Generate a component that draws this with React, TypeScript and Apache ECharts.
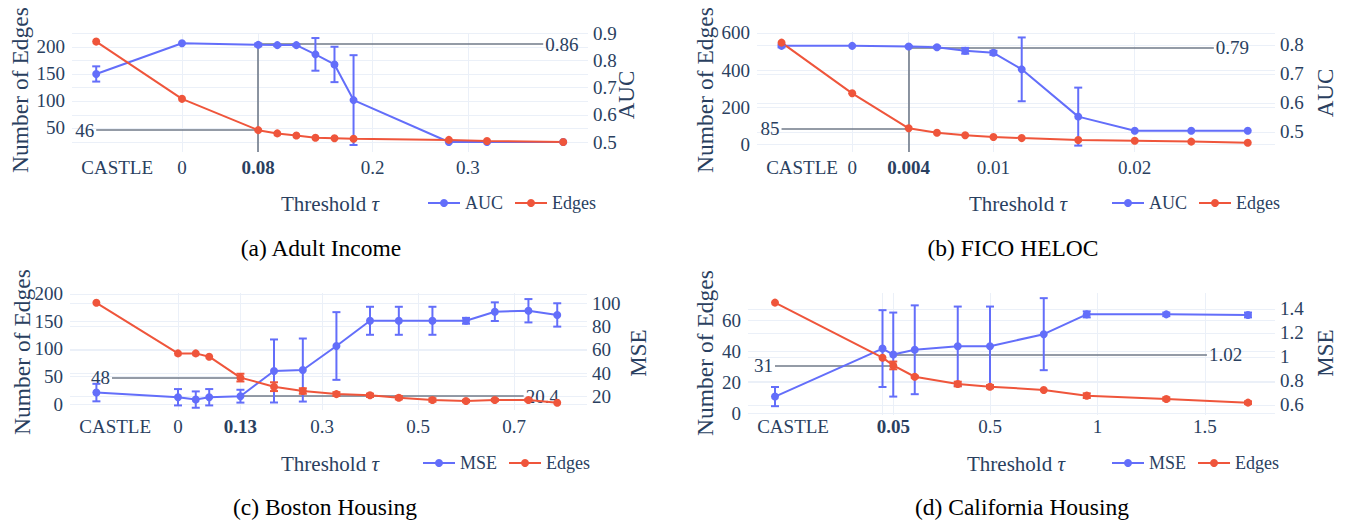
import React, { useEffect, useRef } from "react";
import * as echarts from "echarts";

// ---------------- data ----------------
// (a) Adult Income
const adultX = [-0.09, 0, 0.08, 0.1, 0.12, 0.14, 0.16, 0.18, 0.28, 0.32, 0.4];
const adultAUC = [0.75, 0.863, 0.857, 0.856, 0.856, 0.822, 0.785, 0.654, 0.5, 0.5, 0.5];
const adultAUCErr = [0.028, 0, 0.005, 0.003, 0.003, 0.06, 0.065, 0.165, 0, 0, 0];
const adultEdges = [210, 104, 46, 40, 36, 32, 31, 30, 28, 26, 24];
const adultEdgesErr = [0, 0, 0, 0, 0, 0, 0, 0, 0, 0, 0];
const adultXTicks = [0, 0.08, 0.2, 0.3];
const adultXLabels = [-0.068, 0, 0.08, 0.2, 0.3];
const adultEdgeTicks = [50, 100, 150, 200];
const adultAUCTicks = [0.5, 0.6, 0.7, 0.8, 0.9];

// (b) FICO HELOC
const ficoX = [-0.005, 0, 0.004, 0.006, 0.008, 0.01, 0.012, 0.016, 0.02, 0.024, 0.028];
const ficoAUC = [0.797, 0.797, 0.795, 0.792, 0.78, 0.773, 0.716, 0.553, 0.504, 0.504, 0.504];
const ficoAUCErr = [0.005, 0, 0.002, 0.003, 0.01, 0.007, 0.11, 0.1, 0, 0, 0];
const ficoEdges = [548, 274, 85, 61, 47, 38, 32, 22, 18, 13, 7];
const ficoEdgesErr = [0, 0, 0, 0, 0, 0, 0, 0, 0, 0, 0];
const ficoXTicks = [0, 0.004, 0.01, 0.02];
const ficoXLabels = [-0.00355, 0, 0.004, 0.01, 0.02];
const ficoEdgeTicks = [0, 200, 400, 600];
const ficoAUCTicks = [0.5, 0.6, 0.7, 0.8];

// (c) Boston Housing
const bostonX = [-0.17, 0, 0.037, 0.065, 0.13, 0.2, 0.26, 0.33, 0.4, 0.46, 0.53, 0.6, 0.66, 0.73, 0.79];
const bostonMSE = [23.5, 19.5, 17.5, 19.5, 20.4, 42, 42.8, 63.4, 85, 85, 85, 85, 92.8, 93.6, 90];
const bostonMSEErr = [7.5, 7, 7, 7, 5.5, 27, 27, 29, 12, 12, 12, 2.5, 8, 10, 10];
const bostonEdges = [184, 92, 92, 86, 48, 31.5, 23.6, 18, 15.8, 11.5, 7.3, 5.5, 7.3, 7.3, 2.4];
const bostonEdgesErr = [0, 0, 0, 0, 7, 8, 5, 3.5, 3, 3, 3, 2, 2, 2, 0];
const bostonXTicks = [0, 0.13, 0.3, 0.5, 0.7];
const bostonXLabels = [-0.131, 0, 0.13, 0.3, 0.5, 0.7];
const bostonEdgeTicks = [0, 50, 100, 150, 200];
const bostonMSETicks = [20, 40, 60, 80, 100];

// (d) California Housing
const caliX = [-0.5, 0, 0.05, 0.15, 0.35, 0.5, 0.75, 0.95, 1.32, 1.7];
const caliMSE = [0.67, 1.07, 1.02, 1.06, 1.09, 1.09, 1.19, 1.355, 1.355, 1.35];
const caliMSEErr = [0.08, 0.32, 0.35, 0.37, 0.33, 0.33, 0.3, 0.025, 0.015, 0.02];
const caliEdges = [71.5, 36, 31, 23.7, 19, 17.3, 15.2, 11.5, 9.4, 7];
const caliEdgesErr = [0, 0, 2.5, 0.6, 1.5, 1, 0, 1.5, 1, 0.8];
const caliXTicks = [0, 0.05, 0.5, 1, 1.5];
const caliXLabels = [-0.416, 0.05, 0.5, 1, 1.5];
const caliEdgeTicks = [0, 20, 40, 60];
const caliMSETicks = [0.6, 0.8, 1, 1.2, 1.4];

// ---------------- styles ----------------
const FONT = "'Liberation Serif', 'Times New Roman', serif";
const TXT = "#2a3f5f";
const BLUE = "#636efa";
const RED = "#ef553b";
const GRIDC = "#ebf0f8";
const ANN = "#707a89";

type Ann = { value: number; from: number; to: number; label: string };

type Panel = {
  grid: { left: number; top: number; width: number; height: number };
  x: number[];
  metric: number[];
  metricErr: number[];
  edges: number[];
  edgesErr: number[];
  metricName: string;
  xRange: [number, number];
  edgeRange: [number, number];
  metricRange: [number, number];
  xTicks: number[];
  xLabels: number[];
  castle: number;
  special: number;
  edgeTicks: number[];
  metricTicks: number[];
  edgeAnn: Ann;
  metricAnn: Ann;
  vline: boolean;
  xMargin: number;
  legend: { left: number; top: number };
  xTitle: [number, number];
  yTitle: [number, number];
  rTitle: [number, number];
  caption: string;
  capPos: [number, number];
};

const panels: Panel[] = [
  {
    grid: { left: 72, top: 33, width: 516, height: 119 },
    x: adultX, metric: adultAUC, metricErr: adultAUCErr, edges: adultEdges, edgesErr: adultEdgesErr,
    metricName: "AUC",
    xRange: [-0.1154, 0.426], edgeRange: [5.56, 225.9], metricRange: [0.4633, 0.9005],
    xTicks: adultXTicks, xLabels: adultXLabels, castle: adultXLabels[0], special: 0.08,
    edgeTicks: adultEdgeTicks, metricTicks: adultAUCTicks,
    edgeAnn: { value: 46, from: -0.09, to: 0.08, label: "46" },
    metricAnn: { value: 0.86, from: 0.08, to: 0.379, label: "0.86" },
    vline: true, xMargin: 6,
    legend: { left: 427, top: 194 },
    xTitle: [330, 204], yTitle: [20, 90], rTitle: [626, 95],
    caption: "(a) Adult Income", capPos: [321, 248],
  },
  {
    grid: { left: 757, top: 32, width: 518, height: 120 },
    x: ficoX, metric: ficoAUC, metricErr: ficoAUCErr, edges: ficoEdges, edgesErr: ficoEdgesErr,
    metricName: "AUC",
    xRange: [-0.006738, 0.029929], edgeRange: [-43.2, 605.4], metricRange: [0.431, 0.8448],
    xTicks: ficoXTicks, xLabels: ficoXLabels, castle: ficoXLabels[0], special: 0.004,
    edgeTicks: ficoEdgeTicks, metricTicks: ficoAUCTicks,
    edgeAnn: { value: 85, from: -0.005, to: 0.004, label: "85" },
    metricAnn: { value: 0.79, from: 0.004, to: 0.0256, label: "0.79" },
    vline: true, xMargin: 6,
    legend: { left: 1111, top: 194 },
    xTitle: [1018, 204], yTitle: [705, 90], rTitle: [1325, 93],
    caption: "(b) FICO HELOC", capPos: [1013, 248],
  },
  {
    grid: { left: 70, top: 293, width: 517, height: 117 },
    x: bostonX, metric: bostonMSE, metricErr: bostonMSEErr, edges: bostonEdges, edgesErr: bostonEdgesErr,
    metricName: "MSE",
    xRange: [-0.225, 0.852], edgeRange: [-10.9, 201.8], metricRange: [8.57, 108.8],
    xTicks: bostonXTicks, xLabels: bostonXLabels, castle: bostonXLabels[0], special: 0.13,
    edgeTicks: bostonEdgeTicks, metricTicks: bostonMSETicks,
    edgeAnn: { value: 48, from: -0.1375, to: 0.13, label: "48" },
    metricAnn: { value: 20.4, from: 0.13, to: 0.72, label: "20.4" },
    vline: false, xMargin: 7,
    legend: { left: 422, top: 454 },
    xTitle: [330, 464], yTitle: [22, 352], rTitle: [638, 353],
    caption: "(c) Boston Housing", capPos: [325, 507],
  },
  {
    grid: { left: 748, top: 293, width: 527, height: 122 },
    x: caliX, metric: caliMSE, metricErr: caliMSEErr, edges: caliEdges, edgesErr: caliEdgesErr,
    metricName: "MSE",
    xRange: [-0.6256, 1.8256], edgeRange: [-0.97, 77.7], metricRange: [0.5166, 1.533],
    xTicks: caliXTicks, xLabels: caliXLabels, castle: caliXLabels[0], special: 0.05,
    edgeTicks: caliEdgeTicks, metricTicks: caliMSETicks,
    edgeAnn: { value: 31, from: -0.5, to: 0.05, label: "31" },
    metricAnn: { value: 1.02, from: 0.05, to: 1.509, label: "1.02" },
    vline: false, xMargin: 2,
    legend: { left: 1111, top: 454 },
    xTitle: [1016, 464], yTitle: [705, 353], rTitle: [1325, 353],
    caption: "(d) California Housing", capPos: [1022, 507],
  },
];

const near = (a: number, b: number) => Math.abs(a - b) < 1e-9;

function errSeries(p: Panel, gi: number, yi: number, ys: number[], errs: number[], color: string) {
  const data: number[][] = [];
  p.x.forEach((x, i) => {
    if (errs[i] > 0) data.push([x, ys[i] - errs[i], ys[i] + errs[i]]);
  });
  return {
    type: "custom",
    name: "err" + gi + "_" + yi,
    xAxisIndex: gi,
    yAxisIndex: yi,
    silent: true,
    z: 3,
    encode: { x: 0, y: [1, 2] },
    data,
    renderItem: (params: any, api: any) => {
      const x = api.value(0);
      const lo = api.coord([x, api.value(1)]);
      const hi = api.coord([x, api.value(2)]);
      const hw = 4;
      const st = { stroke: color, lineWidth: 2 };
      return {
        type: "group",
        children: [
          { type: "line", shape: { x1: lo[0], y1: lo[1], x2: hi[0], y2: hi[1] }, style: st },
          { type: "line", shape: { x1: lo[0] - hw, y1: lo[1], x2: lo[0] + hw, y2: lo[1] }, style: st },
          { type: "line", shape: { x1: hi[0] - hw, y1: hi[1], x2: hi[0] + hw, y2: hi[1] }, style: st },
        ],
      };
    },
  };
}

const labelStyle = { color: TXT, fontSize: 19, fontFamily: FONT };

function buildOption() {
  const grid: any[] = [];
  const xAxis: any[] = [];
  const yAxis: any[] = [];
  const series: any[] = [];
  const legend: any[] = [];
  const graphic: any[] = [];

  panels.forEach((p, gi) => {
    grid.push({ ...p.grid, containLabel: false });
    xAxis.push({
      type: "value",
      gridIndex: gi,
      min: p.xRange[0],
      max: p.xRange[1],
      axisLine: { show: false },
      axisTick: { show: false, customValues: p.xTicks },
      splitLine: { show: true, lineStyle: { color: GRIDC, width: 1 } },
      axisLabel: {
        customValues: p.xLabels,
        margin: p.xMargin,
        ...labelStyle,
        formatter: (v: number) =>
          near(v, p.castle) ? "CASTLE" : near(v, p.special) ? "{b|" + p.special + "}" : String(v),
        rich: { b: { ...labelStyle, fontWeight: "bold" } },
      },
    });
    // left (edges)
    yAxis.push({
      type: "value",
      gridIndex: gi,
      position: "left",
      min: p.edgeRange[0],
      max: p.edgeRange[1],
      axisLine: { show: false },
      axisTick: { show: false, customValues: p.edgeTicks },
      splitLine: { show: true, lineStyle: { color: GRIDC, width: 1 } },
      axisLabel: { customValues: p.edgeTicks, margin: 7, ...labelStyle },
    });
    // right (metric)
    yAxis.push({
      type: "value",
      gridIndex: gi,
      position: "right",
      min: p.metricRange[0],
      max: p.metricRange[1],
      axisLine: { show: false },
      axisTick: { show: false, customValues: p.metricTicks },
      splitLine: { show: true, lineStyle: { color: GRIDC, width: 1 } },
      axisLabel: { customValues: p.metricTicks, margin: 5, ...labelStyle },
    });
    const li = gi * 2;
    const ri = gi * 2 + 1;
    const annLabel = { show: true, color: TXT, fontSize: 19, fontFamily: FONT, distance: 2 };
    const metricLines: any[] = [
      [
        { coord: [p.metricAnn.from, p.metricAnn.value], label: { ...annLabel, position: "end", formatter: p.metricAnn.label } },
        { coord: [p.metricAnn.to, p.metricAnn.value] },
      ],
    ];
    if (p.vline) {
      metricLines.push([
        { coord: [p.special, p.metricAnn.value], label: { show: false } },
        { coord: [p.special, p.metricRange[0]] },
      ]);
    }
    series.push({
      type: "line",
      name: p.metricName,
      xAxisIndex: gi,
      yAxisIndex: ri,
      data: p.x.map((x, i) => [x, p.metric[i]]),
      symbol: "circle",
      symbolSize: 8,
      color: BLUE,
      lineStyle: { width: 2, color: BLUE },
      itemStyle: { color: BLUE },
      z: 3,
      markLine: {
        silent: true,
        symbol: ["none", "none"],
        lineStyle: { color: ANN, width: 1.6, type: "solid" },
        data: metricLines,
        z: 1,
      },
    });
    series.push(errSeries(p, gi, ri, p.metric, p.metricErr, BLUE));
    series.push({
      type: "line",
      name: "Edges",
      xAxisIndex: gi,
      yAxisIndex: li,
      data: p.x.map((x, i) => [x, p.edges[i]]),
      symbol: "circle",
      symbolSize: 8,
      color: RED,
      lineStyle: { width: 2, color: RED },
      itemStyle: { color: RED },
      z: 3,
      markLine: {
        silent: true,
        symbol: ["none", "none"],
        lineStyle: { color: ANN, width: 1.6, type: "solid" },
        data: [
          [
            { coord: [p.edgeAnn.from, p.edgeAnn.value], label: { ...annLabel, position: "start", formatter: p.edgeAnn.label } },
            { coord: [p.edgeAnn.to, p.edgeAnn.value] },
          ],
        ],
        z: 1,
      },
    });
    if (p.edgesErr.some((e) => e > 0)) series.push(errSeries(p, gi, li, p.edges, p.edgesErr, RED));

    legend.push({
      left: p.legend.left,
      top: p.legend.top,
      orient: "horizontal",
      itemWidth: 32,
      itemHeight: 10,
      itemGap: 11,
      padding: 0,
      selectedMode: false,
      data: [p.metricName, "Edges"],
      textStyle: { color: TXT, fontSize: 18, fontFamily: FONT },
    });

    graphic.push({
      type: "text",
      x: p.xTitle[0],
      y: p.xTitle[1],
      style: {
        text: "Threshold {i|τ}",
        fill: TXT,
        fontSize: 21,
        fontFamily: FONT,
        align: "center",
        verticalAlign: "middle",
        rich: { i: { fontStyle: "italic", fontSize: 21, fontFamily: FONT, fill: TXT } },
      },
    });
    graphic.push({
      type: "text",
      x: p.yTitle[0],
      y: p.yTitle[1],
      rotation: Math.PI / 2,
      style: { text: "Number of Edges", fill: TXT, fontSize: 23.5, fontFamily: FONT, align: "center", verticalAlign: "middle" },
    });
    graphic.push({
      type: "text",
      x: p.rTitle[0],
      y: p.rTitle[1],
      rotation: Math.PI / 2,
      style: { text: p.metricName, fill: TXT, fontSize: 23, fontFamily: FONT, align: "center", verticalAlign: "middle" },
    });
    graphic.push({
      type: "text",
      x: p.capPos[0],
      y: p.capPos[1],
      style: { text: p.caption, fill: "#000", fontSize: 23.5, fontFamily: FONT, align: "center", verticalAlign: "middle" },
    });
  });

  return {
    animation: false,
    backgroundColor: "#fff",
    grid,
    xAxis,
    yAxis,
    series,
    legend,
    graphic,
  };
}

export default function App() {
  const ref = useRef<HTMLDivElement>(null);
  useEffect(() => {
    document.body.style.margin = "0";
    const chart = echarts.init(ref.current!, null, { renderer: "svg" });
    chart.setOption(buildOption() as any);
    return () => chart.dispose();
  }, []);
  return <div ref={ref} style={{ width: 1346, height: 521 }} />;
}
